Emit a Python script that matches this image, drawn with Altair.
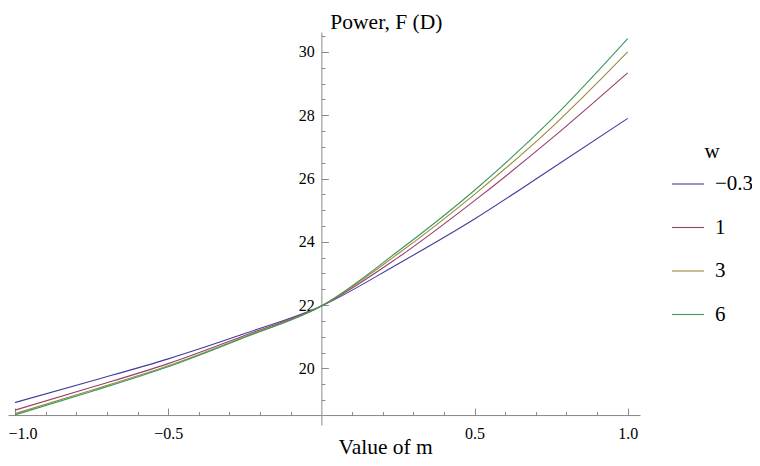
import altair as alt
import pandas as pd

# ---- data ----
m_values = [-1.0, -0.75, -0.5, -0.25, 0.0, 0.25, 0.5, 0.75, 1.0]
w_labels = ["\u22120.3", "1", "3", "6"]
f_w_neg03 = [18.92, 19.60, 20.30, 21.10, 21.97, 23.30, 24.72, 26.30, 27.90]
f_w_1 = [18.68, 19.40, 20.15, 21.04, 21.97, 23.50, 25.30, 27.25, 29.34]
f_w_3 = [18.57, 19.31, 20.08, 21.00, 21.97, 23.62, 25.50, 27.60, 30.00]
f_w_6 = [18.53, 19.27, 20.05, 20.98, 21.97, 23.70, 25.63, 27.85, 30.42]
colors = ["#3F3D99", "#993D71", "#998B3D", "#3D9956"]

x_major = [-1.0, -0.5, 0.5, 1.0]
x_minor = [-0.9, -0.8, -0.7, -0.6, -0.4, -0.3, -0.2, -0.1,
           0.1, 0.2, 0.3, 0.4, 0.6, 0.7, 0.8, 0.9]
y_major = [20, 22, 24, 26, 28, 30]
y_minor = [19, 19.5, 20.5, 21, 21.5, 22.5, 23, 23.5, 24.5, 25, 25.5,
           26.5, 27, 27.5, 28.5, 29, 29.5, 30.5]
x_axis_at = 18.525  # where the horizontal axis crosses

series = [f_w_neg03, f_w_1, f_w_3, f_w_6]
rows = []
for lab, vals in zip(w_labels, series):
    for m, f in zip(m_values, vals):
        rows.append({"m": m, "F": f, "w": lab})
df = pd.DataFrame(rows)

# ---- layout ----
W, H = 632, 393
x_dom = [-1.0228, 1.04]
y_dom = [18.21, 30.63]
px0 = (0 - x_dom[0]) / (x_dom[1] - x_dom[0]) * W
py_axis = (y_dom[1] - x_axis_at) / (y_dom[1] - y_dom[0]) * H

FONT = "Liberation Serif, Times New Roman, serif"
AX = "#8a8a8a"

xs = alt.Scale(domain=x_dom, nice=False, zero=False)
ys = alt.Scale(domain=y_dom, nice=False, zero=False)

lines = alt.Chart(df).mark_line(strokeWidth=1.1, interpolate="monotone").encode(
    x=alt.X("m:Q", scale=xs, axis=alt.Axis(
        orient="top", offset=-py_axis, values=x_major, format=".1f",
        tickSize=7, tickColor=AX, domainColor=AX, grid=False,
        labelPadding=-17.6, labelBaseline="top",
        labelAlign={"condition": {"test": "datum.value <= -1", "value": "left"},
                    "value": "center"},
        labelOffset={"condition": {"test": "datum.value <= -1", "value": -7},
                     "value": 0},
        labelFont=FONT, labelFontSize=16, labelColor="black",
        labelFlush=False, labelOverlap=False,
        title="Value of m", titleX=330, titleY=38, titleAngle=0,
        titleAlign="left", titleBaseline="alphabetic", titleFont=FONT,
        titleFontSize=21.5, titleFontWeight="normal", titleColor="black")),
    y=alt.Y("F:Q", scale=ys, axis=alt.Axis(
        orient="right", offset=px0 - W, values=y_major,
        tickSize=7, tickColor=AX, domainColor=AX, grid=False,
        labelPadding=-14, labelAlign="right", labelBaseline="middle",
        labelFont=FONT, labelFontSize=16, labelColor="black",
        labelFlush=False, labelOverlap=False,
        title="Power, F (D)", titleX=8.5, titleY=-4, titleAngle=0,
        titleAlign="left", titleBaseline="alphabetic", titleFont=FONT,
        titleFontSize=21.5, titleFontWeight="normal", titleColor="black")),
    color=alt.Color("w:N", sort=w_labels,
                    scale=alt.Scale(domain=w_labels, range=colors),
                    legend=alt.Legend(
                        orient="none", legendX=663, legendY=109,
                        direction="vertical",
                        title="w", titleFont=FONT, titleFontSize=21,
                        titleFontWeight="normal", titleColor="black",
                        titleAnchor="middle", titlePadding=5,
                        symbolType="stroke", symbolSize=1024,
                        symbolStrokeWidth=1.1,
                        labelFont=FONT, labelFontSize=21, labelColor="black",
                        labelOffset=10, rowPadding=16.5)),
)

minor = alt.Chart(df).mark_line(opacity=0).encode(
    x=alt.X("m:Q", scale=xs, axis=alt.Axis(
        orient="top", offset=-py_axis, values=x_minor, tickSize=3.5,
        tickColor=AX, labels=False, domain=False, grid=False, title=None)),
    y=alt.Y("F:Q", scale=ys, axis=alt.Axis(
        orient="right", offset=px0 - W, values=y_minor, tickSize=3.5,
        tickColor=AX, labels=False, domain=False, grid=False, title=None)),
    detail="w:N",
)

chart = alt.layer(minor, lines).resolve_axis(
    x="independent", y="independent"
).properties(
    width=W, height=H, autosize="none",
    padding={"left": 0, "top": 24, "right": 112, "bottom": 33},
).configure_view(stroke=None)

chart.save("out.html", embed_options={"renderer": "svg", "actions": False})
